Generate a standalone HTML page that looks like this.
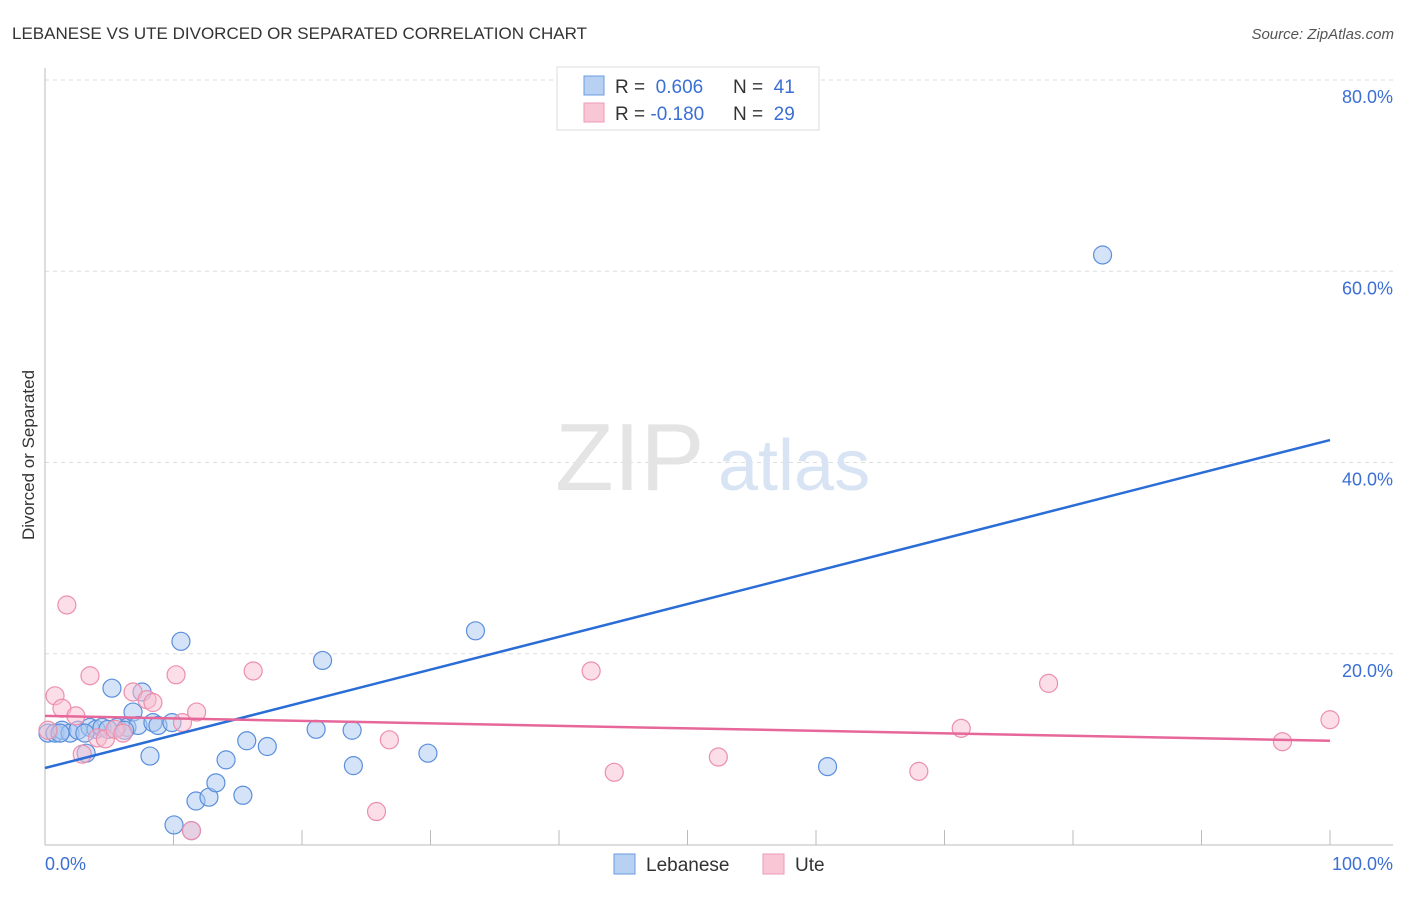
<!DOCTYPE html>
<html><head><meta charset="utf-8"><style>
body{margin:0;background:#fff;font-family:"Liberation Sans",sans-serif;}
svg text{font-family:"Liberation Sans",sans-serif;}
</style></head><body>
<svg width="1406" height="892">
<text x="12" y="39" font-size="17" fill="#333">LEBANESE VS UTE DIVORCED OR SEPARATED CORRELATION CHART</text>
<text x="1394" y="39" font-size="15" fill="#555" font-style="italic" text-anchor="end">Source: ZipAtlas.com</text>
<g id="grid"></g>
<text x="555" y="490" font-size="96" fill="#e4e4e4" font-family="Liberation Serif">ZIP</text>
<text x="718" y="490" font-size="72" fill="#d8e4f4">atlas</text>
<line x1="45" y1="68" x2="45" y2="845" stroke="#bbb"/>
<line x1="45" y1="845" x2="1393" y2="845" stroke="#bbb"/>
<text x="34" y="455" font-size="17" fill="#333" text-anchor="middle" transform="rotate(-90 34 455)">Divorced or Separated</text>
<text x="45" y="870" font-size="18" fill="#3b6fd4">0.0%</text>
<text x="1393" y="870" font-size="18" fill="#3b6fd4" text-anchor="end">100.0%</text>
<g id="marks"></g>
<g>
<rect x="557" y="67" width="262" height="63" fill="#fff" stroke="#ddd"/>
<rect x="584" y="76" width="20" height="19" fill="#b8d1f3" stroke="#6a9be0"/>
<rect x="584" y="103" width="20" height="19" fill="#f9c6d6" stroke="#ef9ab5"/>
<text x="615" y="93" font-size="19" fill="#333">R = <tspan fill="#3b6fd4">&#160;0.606</tspan><tspan x="733">N = </tspan><tspan fill="#3b6fd4">&#160;41</tspan></text>
<text x="615" y="120" font-size="19" fill="#333">R = <tspan fill="#3b6fd4">-0.180</tspan><tspan x="733">N = </tspan><tspan fill="#3b6fd4">&#160;29</tspan></text>
</g>
<g>
<rect x="614" y="854" width="21" height="20" fill="#b8d1f3" stroke="#6a9be0"/>
<text x="646" y="871" font-size="19" fill="#333">Lebanese</text>
<rect x="763" y="854" width="21" height="20" fill="#f9c6d6" stroke="#ef9ab5"/>
<text x="795" y="871" font-size="19" fill="#333">Ute</text>
</g>
</svg>
<script>
const yTicks=[20,40,60,80];
const xTicks=[10,20,30,40,50,60,70,80,90,100];
const lebX=[0.23,0.78,1.32,1.95,2.57,3.5,3.97,4.44,5.21,5.6,6.38,6.85,7.24,7.55,8.17,8.4,8.79,9.88,10.58,10.04,11.75,12.76,13.3,14.09,15.4,15.7,17.3,21.6,21.1,23.9,24.0,29.8,33.5,60.9,82.3,1.17,3.1,4.9,6.2,3.2,11.4];
const lebY=[11.7,11.7,12.0,11.7,12.0,12.3,12.1,12.3,16.4,12.3,12.3,13.9,12.5,16.0,9.3,12.8,12.5,12.8,21.3,2.1,4.6,5.0,6.5,8.9,5.2,10.9,10.3,19.3,12.1,12.0,8.3,9.6,22.4,8.2,61.7,11.7,11.7,12.1,12.0,9.6,1.5];
const uteX=[1.7,0.78,1.32,2.4,3.5,4.1,4.7,5.45,6.07,6.85,7.94,8.4,10.2,10.7,11.8,11.4,16.2,25.8,26.8,42.5,44.3,52.4,68.0,71.3,78.1,96.3,100,2.9,0.23];
const uteY=[25.1,15.6,14.3,13.5,17.7,11.2,11.1,12.1,11.7,16.0,15.2,14.9,17.8,12.8,13.9,1.5,18.2,3.5,11.0,18.2,7.6,9.2,7.7,12.2,16.9,10.8,13.1,9.5,12.0];
const lebLine=[8.05,42.35];
const uteLine=[13.5,10.9];
const sx=v=>45+v*12.85, sy=v=>845-v*9.5625;
const NS="http://www.w3.org/2000/svg";
const grid=document.getElementById('grid'), marks=document.getElementById('marks');
function mk(tag,attrs,parent){const e=document.createElementNS(NS,tag);for(const k in attrs)e.setAttribute(k,attrs[k]);parent.appendChild(e);return e;}
yTicks.forEach(t=>{
 const l=mk('line',{x1:45,x2:1393,y1:sy(t),y2:sy(t),stroke:'#ddd','stroke-dasharray':'4,4'},grid);
 
 
 const tx=mk('text',{x:1393,y:sy(t)+23,'font-size':18,fill:'#3b6fd4','text-anchor':'end'},grid);
 tx.textContent=t.toFixed(1)+'%';
 
 
});
xTicks.forEach(t=>{
 const l=mk('line',{x1:sx(t),x2:sx(t),y1:830,y2:845,stroke:'#bbb'},grid);
 
 
});
function pts(xs,ys,fill,stroke,name){
 xs.forEach((x,i)=>{
  const c=mk('circle',{cx:sx(x),cy:sy(ys[i]),r:9,fill:fill,'fill-opacity':0.5,stroke:stroke,'stroke-width':1.2},marks);
  
  
 });
}
pts(lebX,lebY,'#a9c8f0','#5b8fdc','lebanese-point');
pts(uteX,uteY,'#f8bdd0','#ec8fae','ute-point');
const l1=mk('line',{x1:sx(0),y1:sy(lebLine[0]),x2:sx(100),y2:sy(lebLine[1]),stroke:'#2a6dd6','stroke-width':2.5},marks);


const l2=mk('line',{x1:sx(0),y1:sy(uteLine[0]),x2:sx(100),y2:sy(uteLine[1]),stroke:'#e7679a','stroke-width':2.5},marks);


</script>
</body></html>
